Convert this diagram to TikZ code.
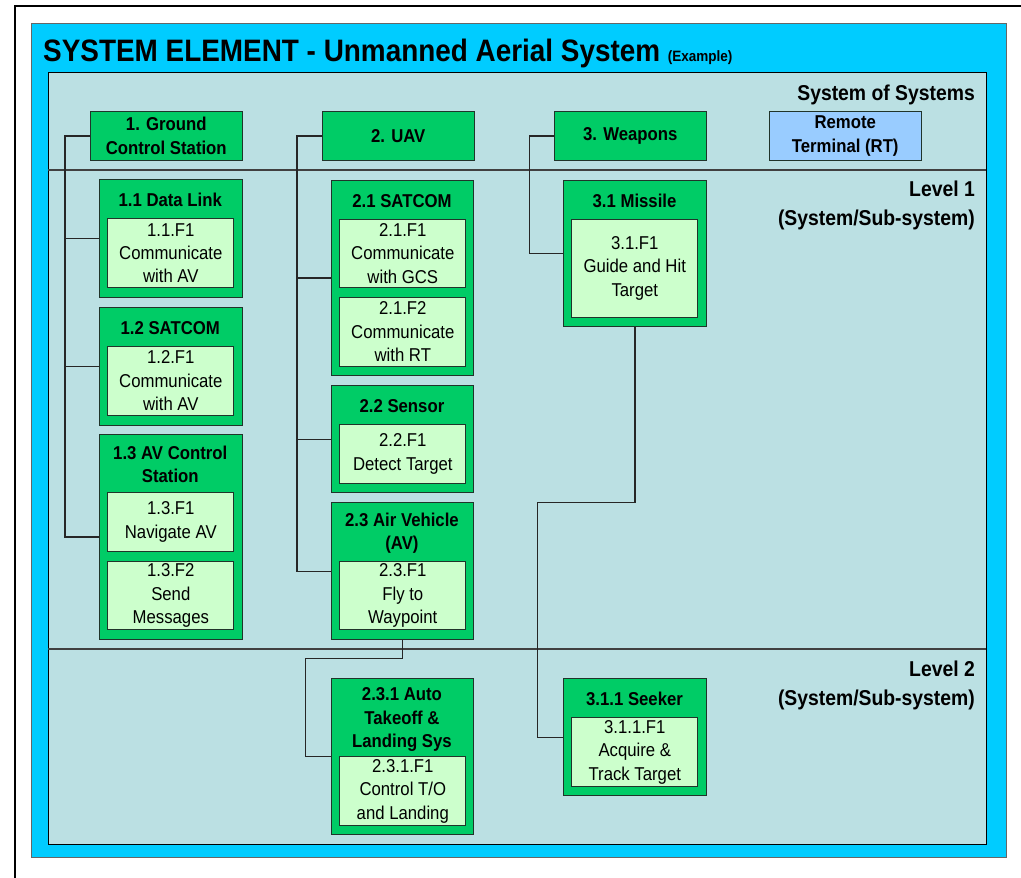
\documentclass[tikz,border=0pt]{standalone}
\usepackage{fontspec}
\setmainfont{Liberation Sans}[FakeStretch=0.9]
\definecolor{cyanc}{RGB}{0,204,255}
\definecolor{panelc}{RGB}{187,224,227}
\definecolor{greenc}{RGB}{0,204,102}
\definecolor{fnc}{RGB}{204,255,204}
\definecolor{rtc}{RGB}{153,204,255}
\definecolor{edgec}{RGB}{32,52,42}
\newcommand\boxfont{\fontsize{18.6}{23.3}\selectfont}
\newcommand\levfont{\fontsize{21.5}{29}\selectfont\bfseries}

\begin{document}
\begin{tikzpicture}[x=1pt, y=-1pt,
  elem/.style={draw=edgec, fill=greenc, line width=1pt, inner sep=0pt,
    anchor=north west, minimum width=142.5},
  topel/.style={elem, minimum width=151.5, minimum height=49, align=center,
    font=\boxfont\bfseries},
  fn/.style={draw=edgec, fill=fnc, line width=1pt, inner sep=0pt,
    anchor=north west, minimum width=126, align=center, font=\boxfont},
  head/.style={align=center, font=\boxfont\bfseries, inner sep=0pt},
  wire/.style={draw=black!85, line width=1.2pt},
  level/.style={anchor=east, align=right, font=\levfont, inner sep=0pt}]
  \useasboundingbox (0,0) rectangle (1021,878);
  \def\xa{99}
  \def\xb{330.7}
  \def\xc{563.3}

  % page frame, cyan sheet and panel
  \draw[black, line width=1.5pt] (15,878) -- (15,6) -- (1021,6);
  \draw[black!60, fill=cyanc, line width=0.8pt] (31,23) rectangle (1006,857);
  \draw[black, fill=panelc, line width=1pt] (48,72) rectangle (986,844);
  \draw[black!75, line width=2pt] (48,170) -- (986,170);
  \draw[black!75, line width=2pt] (48,649) -- (986,649);

  \node[anchor=base west, inner sep=0pt] (title) at (43,61)
    {\fontsize{31}{31}\selectfont\bfseries SYSTEM ELEMENT - Unmanned Aerial System
     {\fontsize{15}{15}\selectfont (Example)}};

  % level labels
  \node[level] (sos) at (975,95) {System of Systems};
  \node[level] (lev1) at (975,205) {Level 1\\(System/Sub-system)};
  \node[level] (lev2) at (975,685) {Level 2\\(System/Sub-system)};

  % system of systems
  \node[topel] (gcs) at (90,111) {1. Ground\\Control Station};
  \node[topel] (uav) at (322,111) {2. UAV};
  \node[topel] (wpn) at (554,111) {3. Weapons};
  \node[topel, fill=rtc] (rt) at (769,111) {Remote\\Terminal (RT)};

  % level 1: ground control station
  \node[elem, minimum height=118] (dl) at (\xa,179) {};
  \node[head] (dlh) at ({\xa+71.25},200) {1.1 Data Link};
  \node[fn, minimum height=69] (dlf) at ({\xa+8.3},218) {1.1.F1\\Communicate\\with AV};
  \node[elem, minimum height=118] (gsat) at (\xa,307) {};
  \node[head] (gsath) at ({\xa+71.25},328) {1.2 SATCOM};
  \node[fn, minimum height=68.5] (gsatf) at ({\xa+8.3},346) {1.2.F1\\Communicate\\with AV};
  \node[elem, minimum height=205] (avc) at (\xa,434) {};
  \node[head] (avch) at ({\xa+71.25},464.5) {1.3 AV Control\\Station};
  \node[fn, minimum height=59] (avcfa) at ({\xa+8.3},492) {1.3.F1\\Navigate AV};
  \node[fn, minimum height=68] (avcfb) at ({\xa+8.3},561) {1.3.F2\\Send\\Messages};

  % level 1: uav
  \node[elem, minimum height=195] (usat) at (\xb,180) {};
  \node[head] (usath) at ({\xb+71.25},200.8) {2.1 SATCOM};
  \node[fn, minimum height=68.6] (usatfa) at ({\xb+8.6},218.7) {2.1.F1\\Communicate\\with GCS};
  \node[fn, minimum height=69] (usatfb) at ({\xb+8.6},296.7) {2.1.F2\\Communicate\\with RT};
  \node[elem, minimum height=107.3] (sen) at (\xb,385) {};
  \node[head] (senh) at ({\xb+71.25},406.2) {2.2 Sensor};
  \node[fn, minimum height=58.4] (senf) at ({\xb+8.6},424.3) {2.2.F1\\Detect Target};
  \node[elem, minimum height=136.7] (av) at (\xb,502.3) {};
  \node[head] (avh) at ({\xb+71.25},533.2) {2.3 Air Vehicle\\(AV)};
  \node[fn, minimum height=68.3] (avf) at ({\xb+8.6},561) {2.3.F1\\Fly to\\Waypoint};

  % level 1: weapons
  \node[elem, minimum height=146.3] (mis) at (\xc,180) {};
  \node[head] (mish) at ({\xc+71.25},200.8) {3.1 Missile};
  \node[fn, minimum height=98] (misf) at ({\xc+8},218.7) {3.1.F1\\Guide and Hit\\Target};

  % level 2
  \node[elem, minimum height=156] (atl) at (\xb,678.3) {};
  \node[head] (atlh) at ({\xb+71.25},719.5) {2.3.1 Auto\\Takeoff \&\\Landing Sys};
  \node[fn, minimum height=68.7] (atlf) at ({\xb+8.6},756.3) {2.3.1.F1\\Control T/O\\and Landing};
  \node[elem, minimum height=117] (skr) at (\xc,678.3) {};
  \node[head] (skrh) at ({\xc+71.25},699.3) {3.1.1 Seeker};
  \node[fn, minimum height=68.7] (skrf) at ({\xc+8},717.3) {3.1.1.F1\\Acquire \&\\Track Target};

  % connectors
  \coordinate (gbus) at (65,0);
  \coordinate (ubus) at (297,0);
  \coordinate (wbus) at (529.3,0);
  \draw[wire] (gcs.west) -| (gbus |- avc.west) -- (avc.west);
  \draw[wire] (gbus |- dl.west) -- (dl.west);
  \draw[wire] (gbus |- gsat.west) -- (gsat.west);
  \draw[wire] (uav.west) -| (ubus |- av.west) -- (av.west);
  \draw[wire] (ubus |- usat.west) -- (usat.west);
  \draw[wire] (ubus |- sen.west) -- (sen.west);
  \draw[wire] (wpn.west) -| (wbus |- mis.west) -- (mis.west);
  \coordinate (avbend) at (305.7,658.3);
  \coordinate (misbend) at (537.7,502.3);
  \draw[wire] (av.south) |- (avbend) |- (atl.west);
  \draw[wire] (mis.south) |- (misbend) |- (skr.west);
\end{tikzpicture}
\end{document}
